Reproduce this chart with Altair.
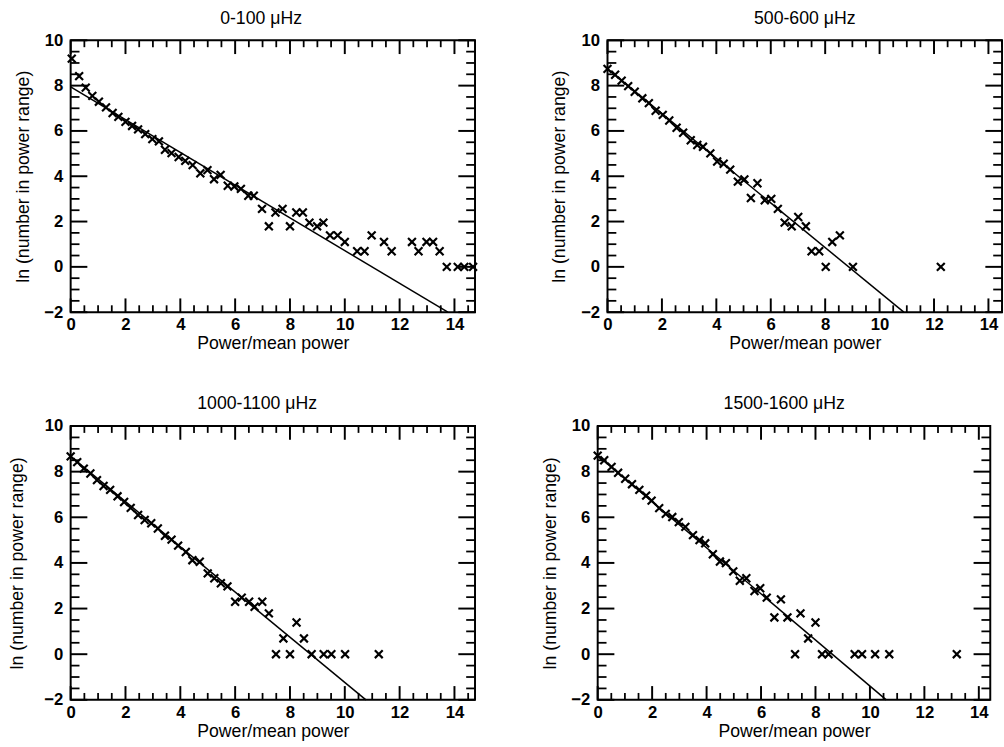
import altair as alt
import pandas as pd

FONT = "Liberation Sans"

# ---------------- data ----------------
titles = ["0-100 \u03bcHz", "500-600 \u03bcHz", "1000-1100 \u03bcHz", "1500-1600 \u03bcHz"]

p1_x = [0.04, 0.31, 0.55, 0.79, 1.03, 1.29, 1.53, 1.74, 2.00, 2.24, 2.46, 2.72, 2.98, 3.22,
        3.44, 3.68, 3.94, 4.18, 4.45, 4.73, 4.99, 5.23, 5.47, 5.73, 5.97, 6.21, 6.48, 6.68,
        6.98, 7.23, 7.47, 7.73, 8.00, 8.23, 8.47, 8.71, 8.99, 9.22, 9.46, 9.74, 10.00, 10.45,
        10.72, 10.98, 11.43, 11.71, 12.45, 12.69, 12.98, 13.22, 13.46, 13.72, 14.12, 14.36, 14.68]
p1_y = [9.19, 8.42, 7.91, 7.55, 7.29, 7.04, 6.79, 6.62, 6.40, 6.22, 6.07, 5.86, 5.64, 5.54,
        5.17, 5.02, 4.85, 4.68, 4.49, 4.13, 4.27, 3.87, 4.06, 3.58, 3.55, 3.44, 3.14, 3.14,
        2.56, 1.79, 2.40, 2.56, 1.79, 2.40, 2.40, 1.95, 1.79, 1.95, 1.39, 1.39, 1.10, 0.69,
        0.69, 1.39, 1.10, 0.69, 1.10, 0.69, 1.10, 1.10, 0.69, 0.0, 0.0, 0.0, 0.0]
p1_line_x = [0.0, 13.76]
p1_line_y = [7.94, -2.0]

p2_x = [0.0, 0.28, 0.52, 0.76, 1.00, 1.28, 1.52, 1.77, 2.03, 2.27, 2.54, 2.78, 3.06, 3.30,
        3.51, 3.78, 4.03, 4.27, 4.51, 4.79, 5.03, 5.27, 5.51, 5.78, 6.02, 6.26, 6.51, 6.77,
        7.01, 7.29, 7.50, 7.78, 8.02, 8.26, 8.54, 9.02, 12.25]
p2_y = [8.74, 8.48, 8.22, 7.98, 7.73, 7.44, 7.23, 6.89, 6.71, 6.46, 6.14, 5.92, 5.59, 5.38,
        5.30, 5.01, 4.65, 4.55, 4.29, 3.76, 3.86, 3.04, 3.69, 2.94, 3.00, 2.56, 1.95, 1.79,
        2.20, 1.79, 0.69, 0.69, 0.0, 1.10, 1.39, 0.0, 0.0]
p2_line_x = [0.0, 10.89]
p2_line_y = [8.74, -2.0]

p3_x = [0.0, 0.24, 0.48, 0.72, 0.96, 1.20, 1.44, 1.71, 1.95, 2.19, 2.46, 2.70, 2.94, 3.18,
        3.44, 3.68, 3.92, 4.20, 4.44, 4.71, 5.00, 5.24, 5.48, 5.72, 6.00, 6.24, 6.51, 6.71,
        6.99, 7.23, 7.49, 7.76, 8.00, 8.24, 8.51, 8.79, 9.23, 9.51, 10.01, 11.24]
p3_y = [8.67, 8.42, 8.13, 7.92, 7.63, 7.37, 7.20, 6.92, 6.67, 6.41, 6.10, 5.88, 5.74, 5.51,
        5.19, 5.02, 4.76, 4.48, 4.12, 4.05, 3.54, 3.33, 3.11, 2.97, 2.30, 2.48, 2.30, 2.08,
        2.30, 1.79, 0.0, 0.69, 0.0, 1.39, 0.69, 0.0, 0.0, 0.0, 0.0, 0.0]
p3_line_x = [0.0, 10.77]
p3_line_y = [8.67, -2.0]

p4_x = [0.0, 0.24, 0.51, 0.75, 1.01, 1.26, 1.53, 1.78, 1.98, 2.26, 2.50, 2.74, 2.98, 3.22,
        3.50, 3.74, 3.95, 4.23, 4.49, 4.71, 4.98, 5.22, 5.46, 5.76, 5.97, 6.21, 6.49, 6.73,
        6.97, 7.25, 7.45, 7.73, 8.00, 8.24, 8.48, 9.44, 9.71, 10.19, 10.71, 13.19]
p4_y = [8.70, 8.50, 8.21, 7.95, 7.69, 7.45, 7.20, 6.95, 6.73, 6.40, 6.15, 6.01, 5.79, 5.58,
        5.22, 5.00, 4.86, 4.38, 4.06, 3.99, 3.63, 3.22, 3.33, 2.77, 2.89, 2.48, 1.61, 2.40,
        1.61, 0.0, 1.79, 0.69, 1.39, 0.0, 0.0, 0.0, 0.0, 0.0, 0.0, 0.0]
p4_line_x = [0.0, 10.6]
p4_line_y = [8.70, -2.0]

x_major = [0, 2, 4, 6, 8, 10, 12, 14]
x_minor = [0.5, 1, 1.5, 2.5, 3, 3.5, 4.5, 5, 5.5, 6.5, 7, 7.5, 8.5, 9, 9.5,
           10.5, 11, 11.5, 12.5, 13, 13.5, 14.5]
y_major = [-2, 0, 2, 4, 6, 8, 10]
y_minor = [-1.5, -1, -0.5, 0.5, 1, 1.5, 2.5, 3, 3.5, 4.5, 5, 5.5, 6.5, 7, 7.5, 8.5, 9, 9.5]

X_TITLE = "Power/mean power"
Y_TITLE = "ln (number in power range)"

X_SHAPE = "M-1,-1L1,1M-1,1L1,-1"


def x_axis():
    return alt.Axis(values=x_major, format="d", ticks=False, tickSize=0,
                    domain=False, grid=False, labelPadding=5,
                    labelFontSize=17, labelFont=FONT, labelFontWeight="bold",
                    labelColor="black", titleFont=FONT, titleFontSize=18,
                    titleFontWeight="normal", titleColor="black",
                    titlePadding=2, labelFlush=False)


def y_axis(title_pad):
    return alt.Axis(values=y_major, format="d", ticks=False, tickSize=0,
                    domain=False, grid=False, labelPadding=8,
                    labelFontSize=17, labelFont=FONT, labelFontWeight="bold",
                    labelColor="black", titleFont=FONT, titleFontSize=18,
                    titleFontWeight="normal", titleColor="black",
                    titlePadding=title_pad, labelFlush=False)


def panel(title, px, py, lx, ly, width, height, xmax, title_dx, ytitle_pad):
    xs = alt.Scale(domain=[0, xmax], nice=False, zero=False)
    ys = alt.Scale(domain=[-2, 10], nice=False, zero=False)
    xa = x_axis()
    ya = y_axis(ytitle_pad)

    def X(f):
        return alt.X(f, scale=xs, title=X_TITLE, axis=xa)

    def Y(f):
        return alt.Y(f, scale=ys, title=Y_TITLE, axis=ya)

    pts = pd.DataFrame({"x": px, "y": py})
    ln = pd.DataFrame({"x": lx, "y": ly})
    xmaj = pd.DataFrame({"v": [v for v in x_major if v <= xmax]})
    xmin = pd.DataFrame({"v": [v for v in x_minor if v <= xmax]})
    ymaj = pd.DataFrame({"v": y_major})
    ymin = pd.DataFrame({"v": y_minor})

    points = alt.Chart(pts).mark_point(
        shape=X_SHAPE, size=64, strokeWidth=2.2, color="black", filled=False, opacity=1
    ).encode(x=X("x:Q"), y=Y("y:Q"))
    line = alt.Chart(ln).mark_line(color="black", strokeWidth=1.5).encode(
        x=X("x:Q"), y=Y("y:Q"))

    def xticks(df, length, sw):
        bot = alt.Chart(df).mark_rule(color="black", strokeWidth=sw).encode(
            x=X("v:Q"), y=alt.value(height), y2=alt.value(height - length))
        top = alt.Chart(df).mark_rule(color="black", strokeWidth=sw).encode(
            x=X("v:Q"), y=alt.value(0), y2=alt.value(length))
        return [bot, top]

    def yticks(df, length, sw):
        left = alt.Chart(df).mark_rule(color="black", strokeWidth=sw).encode(
            y=Y("v:Q"), x=alt.value(0), x2=alt.value(length))
        right = alt.Chart(df).mark_rule(color="black", strokeWidth=sw).encode(
            y=Y("v:Q"), x=alt.value(width), x2=alt.value(width - length))
        return [left, right]

    layers = [points, line] + xticks(xmaj, 14, 2) + xticks(xmin, 7, 1.8) \
        + yticks(ymaj, 17, 2) + yticks(ymin, 9, 1.8)
    return alt.layer(*layers).properties(
        width=width, height=height,
        title=alt.TitleParams(title, font=FONT, fontSize=18, fontWeight="normal",
                              color="black", anchor="middle", offset=4, dx=title_dx),
    )


p1 = panel(titles[0], p1_x, p1_y, p1_line_x, p1_line_y, 412, 277, 14.75, -12, 12)
p2 = panel(titles[1], p2_x, p2_y, p2_line_x, p2_line_y, 402, 277, 14.5, 0, 12)
p3 = panel(titles[2], p3_x, p3_y, p3_line_x, p3_line_y, 412, 279, 14.75, -16, 18)
p4 = panel(titles[3], p4_x, p4_y, p4_line_x, p4_line_y, 400, 279, 14.42, -10, 12)

chart = alt.vconcat(
    alt.hconcat(p1, p2, spacing=68),
    alt.hconcat(p3, p4, spacing=64),
    spacing=42,
).properties(
    padding={"left": 7, "top": 2, "right": 0, "bottom": 0},
    background="white",
).configure_view(stroke="black", strokeWidth=2)

chart.save("out.html", embed_options={"renderer": "svg", "actions": False})
